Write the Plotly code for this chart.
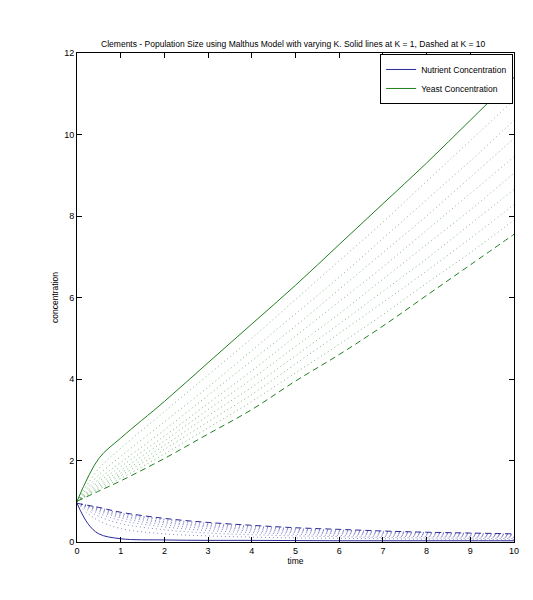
import plotly.graph_objects as go

# sample times
t_yeast = [0, 0.5, 1, 2, 3, 4, 5, 6, 7, 8, 9, 10]
t_nutr = [0, 0.25, 0.5, 1, 2, 3, 4, 5, 6, 7, 8, 9, 10]

# yeast concentration, K = 1 .. 10
yeast_k1 = [1, 2.05, 2.55, 3.45, 4.4, 5.35, 6.3, 7.3, 8.3, 9.3, 10.35, 11.4]
yeast_k2 = [1, 1.8, 2.3, 3.2, 4.1, 5.0, 5.95, 6.9, 7.85, 8.85, 9.85, 10.85]
yeast_k3 = [1, 1.65, 2.1, 2.95, 3.8, 4.7, 5.6, 6.5, 7.45, 8.4, 9.35, 10.35]
yeast_k4 = [1, 1.55, 1.95, 2.75, 3.6, 4.45, 5.3, 6.2, 7.1, 8.0, 8.95, 9.9]
yeast_k5 = [1, 1.48, 1.85, 2.6, 3.4, 4.2, 5.05, 5.9, 6.75, 7.65, 8.55, 9.45]
yeast_k6 = [1, 1.42, 1.76, 2.48, 3.25, 4.0, 4.8, 5.6, 6.45, 7.3, 8.15, 9.05]
yeast_k7 = [1, 1.37, 1.69, 2.37, 3.1, 3.8, 4.57, 5.35, 6.15, 6.95, 7.8, 8.65]
yeast_k8 = [1, 1.33, 1.63, 2.27, 2.95, 3.62, 4.37, 5.12, 5.88, 6.65, 7.45, 8.28]
yeast_k9 = [1, 1.29, 1.56, 2.16, 2.8, 3.45, 4.15, 4.85, 5.58, 6.35, 7.1, 7.9]
yeast_k10 = [1, 1.25, 1.5, 2.05, 2.65, 3.25, 3.95, 4.6, 5.3, 6.05, 6.8, 7.55]

# nutrient concentration, K = 1 .. 10
nutr_k1 = [.95, .45, .2, .08, .05, .04, .04, .035, .03, .03, .03, .03, .03]
nutr_k2 = [.95, .7, .52, .33, .2, .15, .12, .1, .09, .08, .07, .065, .06]
nutr_k3 = [.95, .78, .63, .45, .3, .22, .18, .15, .13, .11, .1, .09, .085]
nutr_k4 = [.95, .82, .7, .53, .37, .28, .23, .19, .16, .14, .13, .12, .11]
nutr_k5 = [.95, .85, .75, .59, .42, .33, .27, .23, .2, .17, .15, .14, .13]
nutr_k6 = [.95, .87, .78, .63, .47, .37, .31, .26, .22, .2, .18, .16, .15]
nutr_k7 = [.95, .88, .8, .66, .5, .4, .34, .29, .25, .22, .2, .18, .16]
nutr_k8 = [.95, .89, .82, .69, .54, .43, .37, .31, .27, .24, .22, .2, .18]
nutr_k9 = [.95, .9, .84, .71, .56, .46, .39, .33, .29, .26, .23, .21, .19]
nutr_k10 = [.95, .9, .85, .73, .58, .48, .41, .35, .31, .27, .24, .22, .2]

yeast = [yeast_k1, yeast_k2, yeast_k3, yeast_k4, yeast_k5,
         yeast_k6, yeast_k7, yeast_k8, yeast_k9, yeast_k10]
nutr = [nutr_k1, nutr_k2, nutr_k3, nutr_k4, nutr_k5,
        nutr_k6, nutr_k7, nutr_k8, nutr_k9, nutr_k10]

blue = '#2b2b9a'
green = '#1f7f1f'

def line_for(i, color):
    if i == 0:
        return dict(color=color, width=1, dash='solid')
    if i == 9:
        return dict(color=color, width=1, dash='6px,4px')
    # dotted in-between curves, drawn fainter like the reference
    return dict(color=color, width=0.8, dash='1px,3px')

fig = go.Figure()
for i, y in enumerate(nutr):
    fig.add_trace(go.Scatter(x=t_nutr, y=y, mode='lines', line_shape='spline',
                             name='Nutrient Concentration', showlegend=(i == 0),
                             line=line_for(i, blue), opacity=1 if i in (0, 9) else 0.7))
for i, y in enumerate(yeast):
    fig.add_trace(go.Scatter(x=t_yeast, y=y, mode='lines', line_shape='spline',
                             name='Yeast Concentration', showlegend=(i == 0),
                             line=line_for(i, green), opacity=1 if i in (0, 9) else 0.7))

axis_style = dict(showgrid=False, zeroline=False, showline=True, mirror='ticks',
                  linecolor='black', linewidth=1, ticks='inside', ticklen=5,
                  tickcolor='black', tickfont=dict(size=9), automargin=False)

fig.update_layout(
    width=533, height=600,
    margin=dict(l=69, r=27, t=45, b=66),
    paper_bgcolor='white', plot_bgcolor='white',
    font=dict(family='Liberation Sans, Arial', size=9, color='black'),
    title=dict(text='Clements - Population Size using Malthus Model with varying K. Solid lines at K = 1, Dashed at K = 10',
               x=0.535, xanchor='center', y=0.935, yanchor='bottom', font=dict(size=8.5),
               automargin=False),
    xaxis=dict(range=[0, 10], dtick=1, title=dict(text='time', standoff=0, font=dict(size=8.5)), **axis_style),
    yaxis=dict(range=[0, 12], dtick=2, title=dict(text='concentration', standoff=4, font=dict(size=8.5)), **axis_style),
    legend=dict(x=0.998, y=0.998, xanchor='right', yanchor='top', bgcolor='white',
                bordercolor='black', borderwidth=1, font=dict(size=8.5),
                tracegroupgap=0, itemwidth=30),
)

fig.write_html("out.html")
